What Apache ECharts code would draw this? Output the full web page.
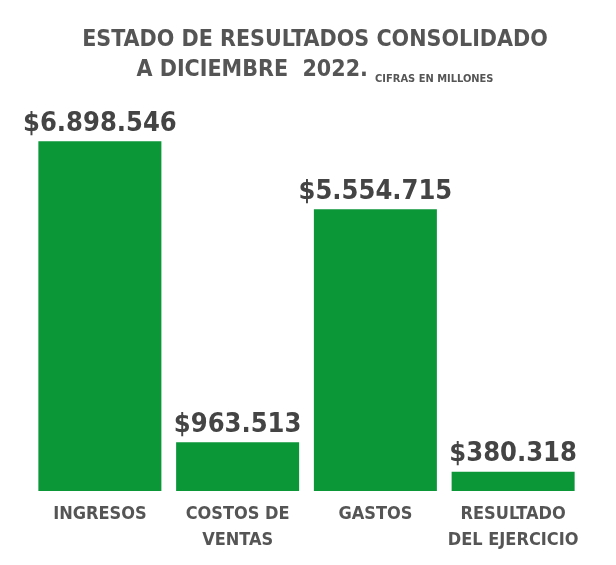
<!DOCTYPE html>
<html><head><meta charset="utf-8">
<script src="https://cdn.jsdelivr.net/npm/echarts@6/dist/echarts.min.js"></script>
<style>html,body{margin:0;background:#fff}#c{width:616px;height:565px}</style>
</head><body><div id="c"></div>
<script>
const categories = ['INGRESOS', 'COSTOS DE\nVENTAS', 'GASTOS', 'RESULTADO\nDEL EJERCICIO'];
const values = [6898546, 963513, 5554715, 380318];
const valueLabels = ['$6.898.546', '$963.513', '$5.554.715', '$380.318'];
const FONT = '"DejaVu Sans Condensed","Liberation Sans Narrow","Roboto",sans-serif';
const chart = echarts.init(document.getElementById('c'));
chart.setOption({
  animation: false,
  title: {
    text: 'ESTADO DE RESULTADOS CONSOLIDADO\n{b|A DICIEMBRE  2022.} {s|CIFRAS EN MILLONES}',
    left: 310, top: 20, textAlign: 'center',
    textStyle: {
      fontFamily: FONT, fontWeight: 'bold', fontSize: 23, color: '#555', lineHeight: 30, align: 'center',
      rich: {
        b: {fontFamily: FONT, fontWeight: 'bold', fontSize: 23, color: '#555', lineHeight: 30},
        s: {fontFamily: FONT, fontWeight: 'bold', fontSize: 11, color: '#555', lineHeight: 30, verticalAlign: 'bottom'}
      }
    }
  },
  grid: {left: 31, right: 34, top: 136, bottom: 74},
  xAxis: {
    type: 'category', data: categories,
    axisLine: {show: false}, axisTick: {show: false},
    axisLabel: {interval: 0, fontFamily: FONT, fontWeight: 'bold', fontSize: 18, color: '#555', lineHeight: 26, margin: 10}
  },
  yAxis: {type: 'value', min: 0, max: 7000000, show: false, splitLine: {show: false}},
  series: [{
    type: 'bar', data: values, barWidth: 123,
    itemStyle: {color: '#0b9638'},
    label: {
      show: true, position: 'top', distance: 4,
      formatter: p => valueLabels[p.dataIndex],
      fontFamily: FONT, fontWeight: 'bold', fontSize: 27, color: '#444'
    }
  }]
});
</script></body></html>
